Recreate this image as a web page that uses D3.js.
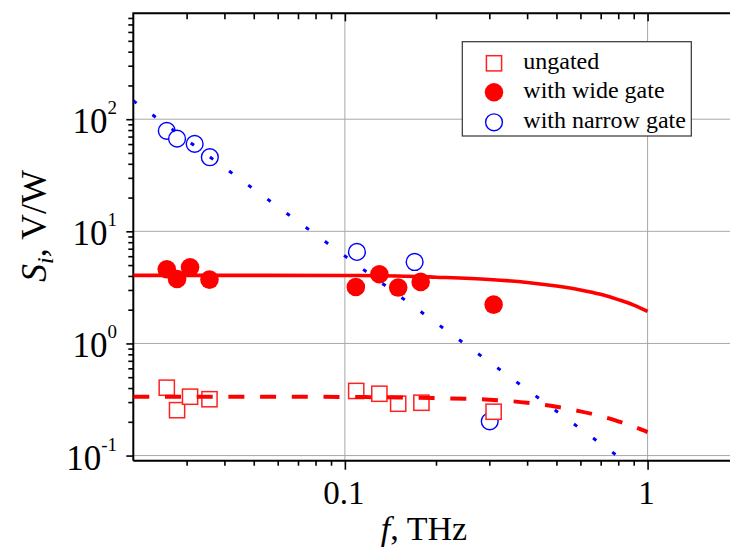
<!DOCTYPE html>
<html>
<head>
<meta charset="utf-8">
<script src="https://cdn.jsdelivr.net/npm/d3@7"></script>
<style>
  body { margin: 0; background: #fff; }
  svg { display: block; }
  svg text { font-family: "Liberation Serif", "Times New Roman", Times, serif; }
</style>
</head>
<body>
<svg id="chart" width="730" height="549"></svg>
<script>
// measured points (f in THz, S in V/W)
const ungatedF = [0.0258, 0.0279, 0.0308, 0.0357, 0.109, 0.130, 0.150, 0.179, 0.310];
const ungatedS = [0.403, 0.254, 0.335, 0.318, 0.377, 0.356, 0.290, 0.296, 0.246];

const wideF = [0.0258, 0.0279, 0.0308, 0.0357, 0.1087, 0.130, 0.150, 0.178, 0.310];
const wideS = [4.59, 3.76, 4.78, 3.71, 3.19, 4.14, 3.15, 3.54, 2.22];

const narrowF = [0.0258, 0.0279, 0.0319, 0.0358, 0.1096, 0.170, 0.301];
const narrowS = [78.7, 67.1, 60.2, 45.8, 6.55, 5.33, 0.202];

// model curves
const fitF = [0.02, 0.05, 0.1, 0.15, 0.2, 0.3, 0.4, 0.5, 0.6, 0.7, 0.8, 0.9, 1.0];
const wideFit = [4.05, 4.05, 4.04, 4.0, 3.9, 3.72, 3.5, 3.25, 3.0, 2.74, 2.46, 2.2, 1.93];
const ungatedFit = [0.335, 0.335, 0.333, 0.33, 0.325, 0.315, 0.296, 0.272, 0.248, 0.225, 0.202, 0.181, 0.162];
const narrowFitF = [0.02, 0.85];
const narrowFitS = [146, 0.087];

const xMajor = [0.1, 1];
const xMajorLabels = ["0.1", "1"];
const yMajor = [0.1, 1, 10, 100];
const yMajorExp = ["-1", "0", "1", "2"];

const legendNames = ["ungated", "with wide gate", "with narrow gate"];

const FONT = '"Liberation Serif", "Times New Roman", Times, serif';

const svg = d3.select("#chart").attr("font-family", FONT);
const pLeft = 133.3, pRight = 738.7, pTop = 13.3, pBottom = 460.7;

const x = d3.scaleLog().domain([0.02, 2]).range([pLeft, pRight]);
const y = d3.scaleLog().domain([0.09, 880]).range([pBottom, pTop]);

// minor tick values
const xMinor = [];
[0.01, 0.1, 1].forEach(d => { for (let k = 2; k <= 9; k++) { const v = d * k; if (v > 0.02 && v < 2) xMinor.push(v); } });
const yMinor = [];
[0.01, 0.1, 1, 10, 100].forEach(d => { for (let k = 2; k <= 9; k++) { const v = d * k; if (v > 0.09 && v < 880) yMinor.push(v); } });

svg.append("defs").append("clipPath").attr("id", "plot-clip")
  .append("rect").attr("x", pLeft).attr("y", pTop).attr("width", pRight - pLeft).attr("height", pBottom - pTop);

// grid
const grid = svg.append("g").attr("stroke", "#a8a8a8").attr("stroke-width", 1);
grid.selectAll(".gx").data(xMajor).join("line")
  .attr("x1", d => x(d)).attr("x2", d => x(d)).attr("y1", pTop).attr("y2", pBottom);
grid.selectAll(".gy").data(yMajor).join("line")
  .attr("y1", d => y(d)).attr("y2", d => y(d)).attr("x1", pLeft).attr("x2", pRight);

// axes
function styleAxis(g) {
  g.select(".domain").remove();
  g.selectAll(".tick line").attr("stroke", "#000").attr("stroke-width", 1.6);
  g.selectAll(".tick text").remove();
}
svg.append("g").attr("transform", `translate(0,${pBottom})`)
  .call(d3.axisBottom(x).tickValues(xMinor).tickSize(5).tickFormat("")).call(styleAxis);
svg.append("g").attr("transform", `translate(0,${pBottom})`)
  .call(d3.axisBottom(x).tickValues(xMajor).tickSize(9).tickFormat("")).call(styleAxis);
svg.append("g").attr("transform", `translate(0,${pTop})`)
  .call(d3.axisBottom(x).tickValues(xMinor).tickSize(6).tickFormat("")).call(styleAxis);
svg.append("g").attr("transform", `translate(0,${pTop})`)
  .call(d3.axisBottom(x).tickValues(xMajor).tickSize(8).tickFormat("")).call(styleAxis);
svg.append("g").attr("transform", `translate(${pLeft},0)`)
  .call(d3.axisLeft(y).tickValues(yMinor).tickSize(5).tickFormat("")).call(styleAxis);
svg.append("g").attr("transform", `translate(${pLeft},0)`)
  .call(d3.axisLeft(y).tickValues(yMajor).tickSize(7).tickFormat("")).call(styleAxis);

svg.append("path")
  .attr("d", `M${pLeft},${pBottom}V${pTop}H${pRight + 5}M${pLeft},${pBottom}H${pRight + 5}`)
  .attr("fill", "none").attr("stroke", "#000").attr("stroke-width", 2);

// tick labels
svg.selectAll(".xl").data(xMajor).join("text")
  .attr("font-family", FONT)
  .attr("x", d => x(d) - 1).attr("y", 504)
  .attr("text-anchor", "middle").attr("font-size", 33)
  .text((d, i) => xMajorLabels[i]);

const yl = svg.selectAll(".yl").data(yMajor).join("text")
  .attr("font-family", FONT)
  .attr("x", 117).attr("y", d => y(d) + 14)
  .attr("text-anchor", "end").attr("font-size", 35);
yl.append("tspan").text("10");
yl.append("tspan").attr("font-size", 19).attr("dy", -19).text((d, i) => yMajorExp[i]);

// axis titles
const xt = svg.append("text").attr("font-family", FONT).attr("x", 424).attr("y", 540)
  .attr("text-anchor", "middle").attr("font-size", 34);
xt.append("tspan").attr("font-style", "italic").text("f");
xt.append("tspan").text(", THz");

const yt = svg.append("text").attr("font-family", FONT).attr("transform", "translate(46,226) rotate(-90)")
  .attr("text-anchor", "middle").attr("font-size", 36);
yt.append("tspan").attr("font-style", "italic").text("S");
yt.append("tspan").attr("font-style", "italic").attr("font-size", 24).attr("dy", 7).text("i");
yt.append("tspan").attr("dy", -7).text(", V/W");

// markers
const plot = svg.append("g").attr("clip-path", "url(#plot-clip)");

plot.selectAll(".nar").data(narrowF).join("circle")
  .attr("cx", d => x(d)).attr("cy", (d, i) => y(narrowS[i])).attr("r", 8.4)
  .attr("fill", "#fff").attr("stroke", "#0000ff").attr("stroke-width", 1.4);

plot.selectAll(".wid").data(wideF).join("circle")
  .attr("cx", d => x(d)).attr("cy", (d, i) => y(wideS[i])).attr("r", 9.3)
  .attr("fill", "#ff0000");

plot.selectAll(".ung").data(ungatedF).join("rect")
  .attr("x", d => x(d) - 7.6).attr("y", (d, i) => y(ungatedS[i]) - 7.6)
  .attr("width", 15.2).attr("height", 15.2)
  .attr("fill", "#fff").attr("stroke", "#ff2020").attr("stroke-width", 1.5);

// curves
const line = d3.line().x(d => x(d[0])).y(d => y(d[1])).curve(d3.curveMonotoneX);

plot.append("path").datum(fitF.map((f, i) => [f, wideFit[i]]))
  .attr("d", line).attr("fill", "none").attr("stroke", "#ff0000").attr("stroke-width", 3.6);

plot.append("path").datum(fitF.map((f, i) => [f, ungatedFit[i]]))
  .attr("d", line).attr("fill", "none").attr("stroke", "#ff0000").attr("stroke-width", 4)
  .attr("stroke-dasharray", "16,15.7");

plot.append("path").datum(narrowFitF.map((f, i) => [f, narrowFitS[i]]))
  .attr("d", d3.line().x(d => x(d[0])).y(d => y(d[1])))
  .attr("fill", "none").attr("stroke", "#0000ff").attr("stroke-width", 3)
  .attr("stroke-dasharray", "4,19.76");

// legend
const lg = svg.append("g");
lg.append("rect").attr("x", 462.3).attr("y", 41.7).attr("width", 229).attr("height", 94.3)
  .attr("fill", "#fff").attr("stroke", "#333").attr("stroke-width", 1.2);
const rowY = [63.3, 92.3, 122.3];
lg.append("rect").attr("x", 494 - 7.6).attr("y", rowY[0] - 7.6).attr("width", 15.2).attr("height", 15.2)
  .attr("fill", "#fff").attr("stroke", "#ff2020").attr("stroke-width", 1.5);
lg.append("circle").attr("cx", 494).attr("cy", rowY[1]).attr("r", 9.2).attr("fill", "#ff0000");
lg.append("circle").attr("cx", 494).attr("cy", rowY[2]).attr("r", 8.4)
  .attr("fill", "#fff").attr("stroke", "#0000ff").attr("stroke-width", 1.4);
lg.selectAll(".lt").data(legendNames).join("text")
  .attr("font-family", FONT)
  .attr("x", 523.3).attr("y", (d, i) => rowY[i] + 5.4)
  .attr("font-size", 24).text(d => d);
</script>
</body>
</html>
